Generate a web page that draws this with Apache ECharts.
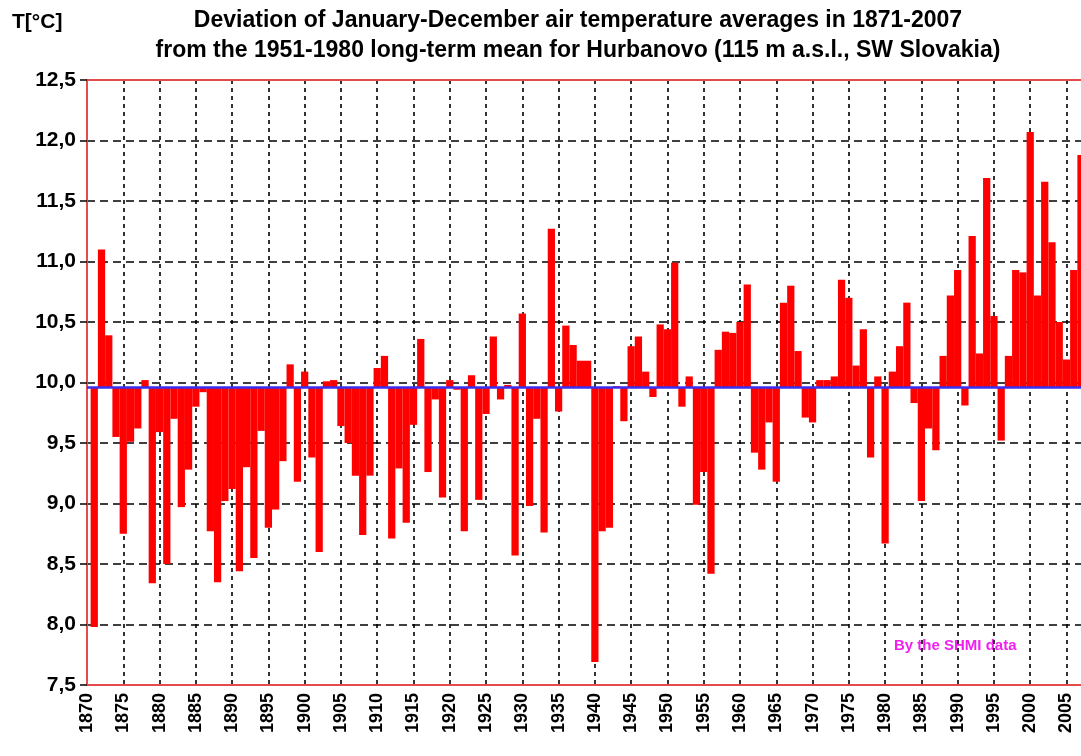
<!DOCTYPE html>
<html>
<head>
<meta charset="utf-8">
<script src="https://cdn.jsdelivr.net/npm/echarts@6/dist/echarts.min.js"></script>
<style>
  html, body { margin: 0; padding: 0; background: #ffffff; }
  #chart { width: 1081px; height: 756px; }
</style>
</head>
<body>
<div id="chart"></div>
<script>
// ---- data ----
const years = [
  1870,1871,1872,1873,1874,1875,1876,1877,1878,1879,
  1880,1881,1882,1883,1884,1885,1886,1887,1888,1889,
  1890,1891,1892,1893,1894,1895,1896,1897,1898,1899,
  1900,1901,1902,1903,1904,1905,1906,1907,1908,1909,
  1910,1911,1912,1913,1914,1915,1916,1917,1918,1919,
  1920,1921,1922,1923,1924,1925,1926,1927,1928,1929,
  1930,1931,1932,1933,1934,1935,1936,1937,1938,1939,
  1940,1941,1942,1943,1944,1945,1946,1947,1948,1949,
  1950,1951,1952,1953,1954,1955,1956,1957,1958,1959,
  1960,1961,1962,1963,1964,1965,1966,1967,1968,1969,
  1970,1971,1972,1973,1974,1975,1976,1977,1978,1979,
  1980,1981,1982,1983,1984,1985,1986,1987,1988,1989,
  1990,1991,1992,1993,1994,1995,1996,1997,1998,1999,
  2000,2001,2002,2003,2004,2005,2006,2007
];
// annual mean air temperature [°C], Hurbanovo (1870 = no data)
const temps = [
  null, 7.98, 11.10, 10.39, 9.55, 8.75, 9.51, 9.62, 10.02, 8.34,
  9.59, 8.50, 9.70, 8.97, 9.28, 9.80, 9.92, 8.77, 8.35, 9.02,
  9.12, 8.44, 9.30, 8.55, 9.60, 8.80, 8.95, 9.35, 10.15, 9.18,
  10.09, 9.38, 8.60, 10.01, 10.02, 9.64, 9.50, 9.23, 8.74, 9.23,
  10.12, 10.22, 8.71, 9.29, 8.84, 9.65, 10.36, 9.26, 9.86, 9.05,
  10.02, 9.94, 8.77, 10.06, 9.03, 9.74, 10.38, 9.86, 9.98, 8.57,
  10.57, 8.98, 9.70, 8.76, 11.27, 9.76, 10.47, 10.31, 10.18, 10.18,
  7.69, 8.77, 8.80, 9.97, 9.68, 10.30, 10.38, 10.09, 9.88, 10.48,
  10.44, 10.99, 9.80, 10.05, 8.99, 9.26, 8.42, 10.27, 10.42, 10.41,
  10.50, 10.81, 9.42, 9.28, 9.67, 9.18, 10.66, 10.80, 10.26, 9.71,
  9.67, 10.02, 10.02, 10.05, 10.85, 10.70, 10.14, 10.44, 9.38, 10.05,
  8.67, 10.09, 10.30, 10.66, 9.83, 9.02, 9.62, 9.44, 10.22, 10.72,
  10.93, 9.81, 11.21, 10.24, 11.69, 10.55, 9.52, 10.22, 10.93, 10.91,
  12.07, 10.72, 11.66, 11.16, 10.50, 10.19, 10.93, 11.88
];
// 1951-1980 long-term mean (baseline of the bars)
const longTermMean = 9.96;
const yTicks = { min: 7.5, max: 12.5, step: 0.5 };

const titleLine1 = 'Deviation of January-December air temperature averages in 1871-2007';
const titleLine2 = 'from the 1951-1980 long-term mean for Hurbanovo (115 m a.s.l., SW Slovakia)';
const unitLabel = 'T[°C]';
const sourceNote = 'By the SHMI data';

// ---- chart ----
const categories = years.map(String);
const barData = [];
for (let i = 0; i < years.length; i++) {
  if (temps[i] !== null) barData.push([categories[i], temps[i]]);
}

const chart = echarts.init(document.getElementById('chart'), null, { renderer: 'canvas' });
const FONT = '"Liberation Sans", Arial, sans-serif';
const FRAME = '#e44b4b';

chart.setOption({
  animation: false,
  backgroundColor: '#ffffff',
  grid: { left: 87, top: 80, width: 996, height: 605, show: false },
  xAxis: [{
    type: 'category',
    data: categories,
    boundaryGap: false,
    axisLine: { show: true, lineStyle: { color: FRAME, width: 2 } },
    axisTick: { show: false },
    axisLabel: {
      interval: 4, rotate: 90, margin: 8, padding: [8, 0, 0, 0],
      color: '#000', fontFamily: FONT, fontWeight: 'bold', fontSize: 18
    },
    splitLine: {
      show: true, interval: 4, showMinLine: false,
      lineStyle: { color: '#000', width: 1.6, type: [4, 4] }
    }
  }, {
    type: 'category',
    data: categories,
    boundaryGap: false,
    position: 'top',
    axisLine: { show: true, onZero: false, lineStyle: { color: FRAME, width: 2 } },
    axisTick: { show: false },
    axisLabel: { show: false },
    splitLine: { show: false }
  }],
  yAxis: {
    type: 'value',
    min: yTicks.min, max: yTicks.max, interval: yTicks.step,
    axisLine: { show: true, lineStyle: { color: FRAME, width: 2 } },
    axisTick: { show: true, inside: false, length: 7, lineStyle: { color: '#000', width: 1.5 } },
    axisLabel: {
      margin: 11, color: '#000', fontFamily: FONT, fontWeight: 'bold', fontSize: 21,
      formatter: v => v.toFixed(1).replace('.', ',')
    },
    splitLine: {
      show: true, showMinLine: false, showMaxLine: false,
      lineStyle: { color: '#000', width: 1.6, type: [8, 5] }
    }
  },
  series: [{
    type: 'custom',
    xAxisIndex: 0,
    data: barData,
    encode: { x: 0, y: 1 },
    renderItem: function (params, api) {
      const x = api.value(0);
      const v = api.value(1);
      const p0 = api.coord([x, longTermMean]);
      const p1 = api.coord([x, v]);
      const w = api.size([1, 0])[0];
      return {
        type: 'rect',
        shape: {
          x: p0[0] - w / 2,
          y: Math.min(p0[1], p1[1]),
          width: w,
          height: Math.abs(p1[1] - p0[1])
        },
        style: { fill: '#ff0000' }
      };
    },
    markLine: {
      silent: true,
      symbol: 'none',
      label: { show: false },
      lineStyle: { color: '#3a2ff0', width: 2.5, type: 'solid' },
      data: [{ yAxis: longTermMean }]
    }
  }],
  graphic: [
    { type: 'text', left: 12, top: 12,
      style: { text: unitLabel, fill: '#000', font: 'bold 21px ' + FONT } },
    { type: 'text', x: 578, y: 21,
      style: { text: titleLine1, fill: '#000', font: 'bold 23px ' + FONT, textAlign: 'center', textVerticalAlign: 'middle' } },
    { type: 'text', x: 578, y: 51,
      style: { text: titleLine2, fill: '#000', font: 'bold 23px ' + FONT, textAlign: 'center', textVerticalAlign: 'middle' } },
    { type: 'text', x: 894, y: 646,
      style: { text: sourceNote, fill: '#f020f0', font: 'bold 15px ' + FONT, textAlign: 'left', textVerticalAlign: 'middle' } }
  ]
});
</script>
</body>
</html>
